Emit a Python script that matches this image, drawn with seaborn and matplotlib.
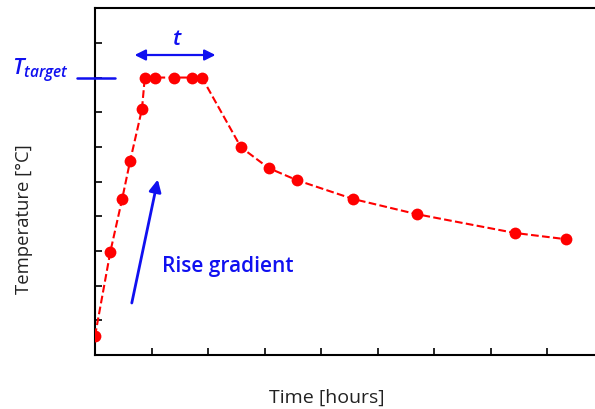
"""Temperature profile sketch: rise, hold at T_target for time t, then decay."""

import matplotlib
matplotlib.use("Agg")
import matplotlib.pyplot as plt
import pandas as pd
import seaborn as sns

# values (arbitrary units)
time_h = [0.0, 0.27, 0.48, 0.62, 0.83, 0.88, 1.06, 1.40, 1.71, 1.89,
          2.58, 3.07, 3.57, 4.56, 5.69, 7.42, 8.32]
temp = [0.55, 2.97, 4.50, 5.59, 7.09, 8.0, 8.0, 8.0, 8.0, 8.0,
        5.99, 5.39, 5.04, 4.50, 4.06, 3.52, 3.34]
t_target = 8.0
x_ticks = [1, 2, 3, 4, 5, 6, 7, 8]
y_ticks = [1, 2, 3, 4, 5, 6, 7, 8, 9]

BLUE = "#1010f0"
RED = "#ff0000"

sns.set_style("ticks")
plt.rcParams["font.family"] = ["Open Sans", "DejaVu Sans"]
plt.rcParams["mathtext.fontset"] = "custom"
plt.rcParams["mathtext.it"] = "Open Sans:italic:semibold"
plt.rcParams["mathtext.rm"] = "Open Sans"

df = pd.DataFrame({"time": time_h, "temp": temp})

fig = plt.figure(figsize=(5.95, 4.09), dpi=100)
ax = fig.add_axes([0.1597, 0.132, 0.8403, 0.848])

sns.lineplot(data=df, x="time", y="temp", ax=ax, sort=False, color=RED,
             linestyle="--", linewidth=1.5, marker="o", markersize=8.5,
             markeredgewidth=0, markerfacecolor=RED, zorder=3)

ax.set_xlim(0, 8.84)
ax.set_ylim(0, 10)
ax.set_xticks(x_ticks)
ax.set_yticks(y_ticks)
ax.set_xticklabels([])
ax.set_yticklabels([])
ax.tick_params(direction="in", length=5, width=1.2, color="black")
for side in ("left", "bottom", "top"):
    ax.spines[side].set_linewidth(1.5)
    ax.spines[side].set_color("black")
ax.spines["right"].set_visible(False)

ax.set_xlabel("Time [hours]", fontsize=14, color="#222222")
ax.set_ylabel("Temperature [°C]", fontsize=13.3, color="#222222")
ax.xaxis.set_label_coords(0.464, -0.097)
ax.yaxis.set_label_coords(-0.124, 0.392)

# T_target marker line across the y axis
ax.plot([-0.32, 0.35], [t_target, t_target], color=BLUE, lw=1.8,
        clip_on=False, zorder=4)
ax.text(-1.47, t_target + 0.07, r"$T_{target}$", color=BLUE, fontsize=16,
        ha="left", va="baseline")

# hold time arrow
ax.annotate("", xy=(2.13, 8.65), xytext=(0.70, 8.65),
            arrowprops=dict(arrowstyle="<|-|>", color=BLUE, lw=1.6,
                            mutation_scale=16, shrinkA=0, shrinkB=0))
ax.text(1.45, 8.95, "t", color=BLUE, fontsize=16, style="italic",
        weight="semibold", ha="center", va="baseline")

# rise gradient arrow
ax.annotate("", xy=(1.11, 5.06), xytext=(0.65, 1.50),
            arrowprops=dict(arrowstyle="-|>", color=BLUE, lw=2.0,
                            mutation_scale=18, shrinkA=0, shrinkB=0))
ax.text(1.18, 2.54, "Rise gradient", color=BLUE, fontsize=15,
        weight="semibold", ha="left", va="center")

fig.savefig("out.png", dpi=100)
